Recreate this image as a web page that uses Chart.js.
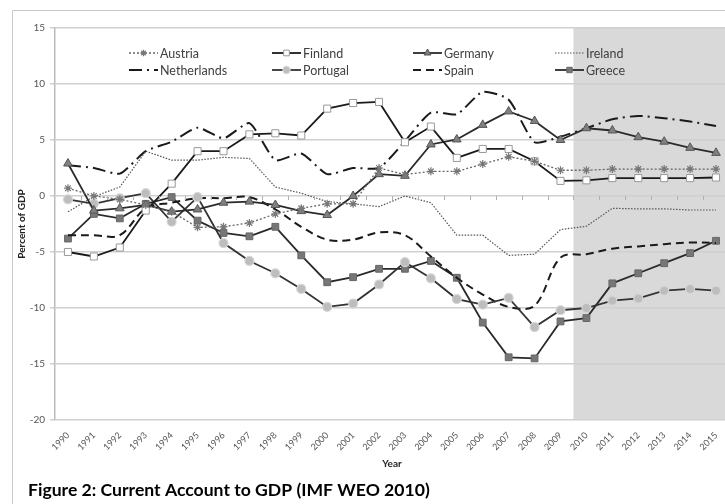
<!DOCTYPE html>
<html>
<head>
<meta charset="utf-8">
<script src="https://cdn.jsdelivr.net/npm/chart.js@4.4.0/dist/chart.umd.min.js"></script>
<style>
  body { margin: 0; background: #fff; overflow: hidden; }
  /* the plot runs off the right edge of the page, as in the source figure */
  #wrap { width: 735px; height: 504px; position: relative; }
</style>
</head>
<body>
<div id="wrap"><canvas id="lineChart"></canvas></div>
<script>
const years = ['1990', '1991', '1992', '1993', '1994', '1995', '1996', '1997', '1998', '1999', '2000', '2001', '2002',
    '2003', '2004', '2005', '2006', '2007', '2008', '2009', '2010', '2011', '2012', '2013', '2014', '2015'];

const austria = [0.7, 0.0, -0.3, -0.8, -1.4, -2.8, -2.75, -2.4, -1.6, -1.1, -0.7, -0.7, 2.5, 1.9, 2.2, 2.2, 2.85, 3.5, 3.1, 2.3, 2.3, 2.4, 2.4, 2.4, 2.4, 2.4];
const finland = [-5.0, -5.4, -4.6, -1.3, 1.1, 4.0, 4.0, 5.5, 5.6, 5.4, 7.8, 8.3, 8.4, 4.8, 6.2, 3.4, 4.2, 4.2, 3.1, 1.35, 1.4, 1.6, 1.6, 1.6, 1.6, 1.65];
const germany = [2.9, -1.3, -1.1, -0.8, -1.4, -1.2, -0.6, -0.5, -0.8, -1.35, -1.7, 0.0, 1.95, 1.8, 4.6, 5.05, 6.35, 7.55, 6.7, 5.0, 6.05, 5.85, 5.25, 4.85, 4.3, 3.85];
const ireland = [-1.4, -0.05, 0.8, 4.0, 3.2, 3.2, 3.45, 3.35, 0.8, 0.25, -0.5, -0.7, -0.95, 0.0, -0.6, -3.5, -3.5, -5.3, -5.2, -3.0, -2.7, -1.1, -1.15, -1.15, -1.25, -1.25];
const netherlands = [2.75, 2.5, 2.0, 4.0, 4.85, 6.1, 5.15, 6.5, 3.2, 3.8, 1.95, 2.5, 2.5, 4.9, 7.45, 7.3, 9.3, 8.6, 4.8, 5.3, 6.05, 6.85, 7.15, 6.95, 6.65, 6.25];
const portugal = [-0.3, -0.7, -0.2, 0.25, -2.3, -0.1, -4.2, -5.8, -6.9, -8.3, -9.9, -9.6, -7.9, -5.9, -7.35, -9.2, -9.7, -9.1, -11.7, -10.2, -10.0, -9.35, -9.15, -8.45, -8.3, -8.45];
const spain = [-3.5, -3.5, -3.5, -1.1, -0.6, -0.2, -0.2, -0.1, -1.2, -2.75, -3.9, -3.9, -3.25, -3.5, -5.4, -7.3, -8.8, -9.9, -9.8, -5.5, -5.2, -4.7, -4.5, -4.3, -4.15, -4.2];
const greece = [-3.8, -1.6, -2.0, -0.7, -0.1, -2.2, -3.3, -3.6, -2.75, -5.3, -7.7, -7.25, -6.5, -6.5, -5.8, -7.3, -11.3, -14.4, -14.5, -11.2, -10.9, -7.8, -6.9, -6.0, -5.1, -4.0];

const forecastFrom = '2010'; // shaded projection years
const FONT = 'Lato, "DejaVu Sans", sans-serif';

// gray box behind the projected years, and x axis tick marks at zero
const shadePlugin = {
    id: 'shade',
    beforeDraw(chart) {
        const ctx = chart.ctx;
        const x = chart.scales.x;
        const i = years.indexOf(forecastFrom);
        const left = (x.getPixelForValue(i - 1) + x.getPixelForValue(i)) / 2;
        const area = chart.chartArea;
        ctx.save();
        // outer frame of the figure
        ctx.strokeStyle = '#c8c8c8';
        ctx.lineWidth = 1;
        ctx.beginPath();
        ctx.moveTo(12.5, 504);
        ctx.lineTo(12.5, 10.5);
        ctx.lineTo(chart.width, 10.5);
        ctx.stroke();
        ctx.fillStyle = '#d9d9d9';
        ctx.fillRect(left, area.top, chart.width - left, area.bottom - area.top);
        ctx.restore();
    },
    afterDraw(chart) {
        const ctx = chart.ctx;
        const x = chart.scales.x, y = chart.scales.y;
        const y0 = y.getPixelForValue(0);
        ctx.save();
        ctx.strokeStyle = '#b0b0b0';
        ctx.lineWidth = 1;
        ctx.beginPath();
        for (let i = 0; i < years.length - 1; i++) {
            const bx = Math.round((x.getPixelForValue(i) + x.getPixelForValue(i + 1)) / 2) + 0.5;
            ctx.moveTo(bx, y0);
            ctx.lineTo(bx, y0 + 4);
        }
        ctx.stroke();

        // caption
        ctx.fillStyle = '#000';
        ctx.font = 'bold 17.6px ' + FONT;
        ctx.textBaseline = 'middle';
        ctx.fillText('Figure 2: Current Account to GDP (IMF WEO 2010)', 28, 490);
        ctx.restore();
    }
};

// legend drawn inside the plot, 4 columns x 2 rows
const legendPlugin = {
    id: 'boxLegend',
    afterDatasetsDraw(chart) {
        const ctx = chart.ctx;
        const colX = [129, 272, 413, 555];
        const rowY = [53, 70];
        const drawPoint = Chart.helpers && Chart.helpers.drawPoint;
        ctx.save();
        chart.data.datasets.forEach((ds, i) => {
            const x0 = colX[i % 4], y0 = rowY[Math.floor(i / 4)];
            ctx.strokeStyle = ds.borderColor;
            ctx.lineWidth = ds.borderWidth;
            ctx.setLineDash(ds.borderDash || []);
            ctx.beginPath();
            ctx.moveTo(x0, y0);
            ctx.lineTo(x0 + 29, y0);
            ctx.stroke();
            ctx.setLineDash([]);
            if (ds.pointRadius > 0 && drawPoint) {
                ctx.fillStyle = ds.pointBackgroundColor;
                ctx.strokeStyle = ds.pointBorderColor;
                ctx.lineWidth = ds.pointBorderWidth;
                drawPoint(ctx, { pointStyle: ds.pointStyle, radius: ds.pointRadius * 0.8, rotation: 0, borderWidth: ds.pointBorderWidth }, x0 + 14.5, y0);
            }
            ctx.fillStyle = '#404040';
            ctx.font = '12.5px ' + FONT;
            ctx.textBaseline = 'middle';
            ctx.fillText(ds.label, x0 + 31, y0 + 1);
        });
        ctx.restore();
    }
};

const ctx = document.getElementById('lineChart').getContext('2d');

const lineChart = new Chart(ctx, {
    type: 'line',
    data: {
        labels: years,
        datasets: [{
            label: 'Austria',
            data: austria,
            borderColor: '#666',
            borderWidth: 1.3,
            borderDash: [2, 2],
            pointStyle: 'star',
            pointRadius: 4,
            pointBackgroundColor: '#999',
            pointBorderColor: '#777',
            pointBorderWidth: 1.2
        }, {
            label: 'Finland',
            data: finland,
            borderColor: '#1a1a1a',
            borderWidth: 1.8,
            pointStyle: 'rect',
            pointRadius: 5,
            pointBackgroundColor: '#fff',
            pointBorderColor: '#999',
            pointBorderWidth: 1
        }, {
            label: 'Germany',
            data: germany,
            borderColor: '#2a2a2a',
            borderWidth: 1.8,
            pointStyle: 'triangle',
            pointRadius: 5,
            pointBackgroundColor: '#808080',
            pointBorderColor: '#555',
            pointBorderWidth: 1
        }, {
            label: 'Ireland',
            data: ireland,
            borderColor: '#555',
            borderWidth: 1.2,
            borderDash: [1.5, 1.5],
            pointRadius: 0
        }, {
            label: 'Netherlands',
            data: netherlands,
            borderColor: '#1a1a1a',
            borderWidth: 2,
            borderDash: [13, 5, 2, 5],
            pointRadius: 0,
            tension: 0.2
        }, {
            label: 'Portugal',
            data: portugal,
            borderColor: '#333',
            borderWidth: 1.8,
            pointStyle: 'circle',
            pointRadius: 4.5,
            pointBackgroundColor: '#bdbdbd',
            pointBorderColor: '#d6d6d6',
            pointBorderWidth: 1.2
        }, {
            label: 'Spain',
            data: spain,
            borderColor: '#1a1a1a',
            borderWidth: 2,
            borderDash: [8, 5],
            pointRadius: 0,
            tension: 0.35
        }, {
            label: 'Greece',
            data: greece,
            borderColor: '#2a2a2a',
            borderWidth: 1.8,
            pointStyle: 'rect',
            pointRadius: 4.8,
            pointBackgroundColor: '#777',
            pointBorderColor: '#666',
            pointBorderWidth: 1
        }]
    },
    options: {
        responsive: true,
        maintainAspectRatio: false,
        animation: false,
        layout: {
            padding: { left: 14, top: 28, right: 0, bottom: 30 }
        },
        plugins: {
            legend: { display: false },
            title: { display: false },
            tooltip: { enabled: false }
        },
        scales: {
            x: {
                offset: true,
                grid: { display: false },
                border: { display: false },
                ticks: {
                    autoSkip: false,
                    minRotation: 45,
                    maxRotation: 45,
                    padding: 2,
                    color: '#555',
                    font: { family: FONT, size: 9 }
                },
                title: {
                    display: true,
                    text: 'Year',
                    color: '#222',
                    font: { family: FONT, size: 10, weight: 'bold' },
                    padding: { top: 2, bottom: 4 }
                },
                afterFit(scale) {
                    scale.height = 54;
                }
            },
            y: {
                min: -20,
                max: 15,
                ticks: {
                    stepSize: 5,
                    padding: 5,
                    color: '#555',
                    font: { family: FONT, size: 10 }
                },
                grid: {
                    color: '#d0d0d0',
                    lineWidth: 1.5,
                    tickLength: 5
                },
                border: { color: '#bbb', width: 1.5 },
                title: {
                    display: true,
                    text: 'Percent of GDP',
                    color: '#222',
                    font: { family: FONT, size: 10, weight: 'bold' },
                    padding: { top: 2, bottom: 2 }
                },
                afterFit(scale) { scale.width = 41; }
            }
        }
    },
    plugins: [shadePlugin, legendPlugin]
});
</script>
</body>
</html>
